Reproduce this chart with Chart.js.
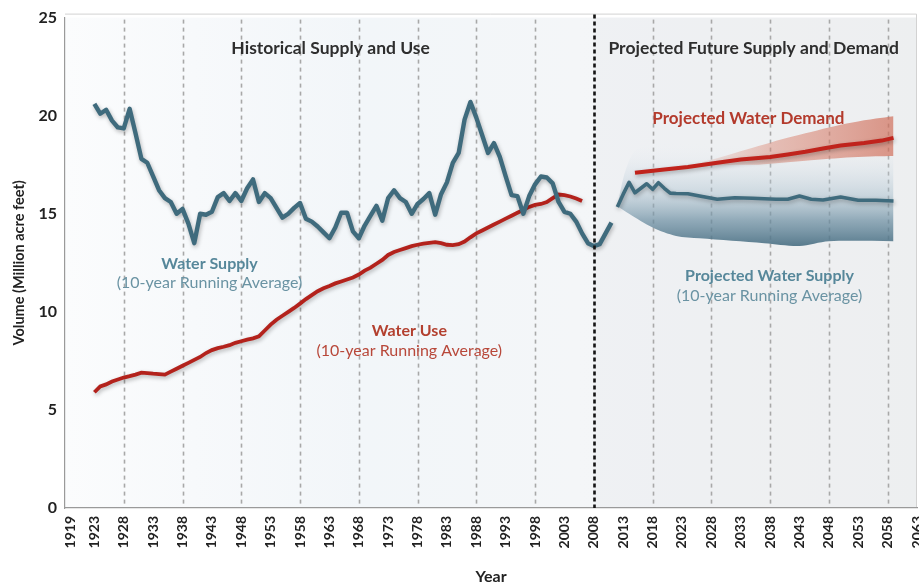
<!DOCTYPE html>
<html><head><meta charset="utf-8">
<script src="https://cdn.jsdelivr.net/npm/chart.js@4.4.0/dist/chart.umd.min.js"></script>
<style>html,body{margin:0;padding:0;background:#fff;}#wrap{width:919px;height:586px;}</style>
</head><body><div id="wrap"><canvas id="c" width="919" height="586"></canvas></div>
<script>
// ---- tick labels / grid ----
const tickYears = [1919,1923,1928,1933,1938,1943,1948,1953,1958,1963,1968,1973,1978,1983,1988,1993,1998,2003,2008,2013,2018,2023,2028,2033,2038,2043,2048,2053,2058,2063];
const tickLabels = ['1919','1923','1928','1933','1938','1943','1948','1953','1958','1963','1968','1973','1978','1983','1988','1993','1998','2003','2008','2013','2018','2023','2028','2033','2038','2043','2048','2053','2058','2063'];
const gridYears = [1928,1938,1948,1958,1968,1978,1988,1998,2018,2028,2038,2048,2058];
const dividerYear = 2008;
const yTicks = [0,5,10,15,20,25];

// ---- historical water supply (10-yr running average) ----
const supplyYears = [1923,1924,1925,1926,1927,1928,1929,1930,1931,1932,1933,1934,1935,1936,1937,1938,1939,1940,1941,1942,1943,1944,1945,1946,1947,1948,1949,1950,1951,1952,1953,1954,1955,1956,1957,1958,1959,1960,1961,1962,1963,1964,1965,1966,1967,1968,1969,1970,1971,1972,1973,1974,1975,1976,1977,1978,1979,1980,1981,1982,1983,1984,1985,1986,1987,1988,1989,1990,1991,1992,1993,1994,1995,1996,1997,1998,1999,2000,2001,2002,2003,2004,2005,2006,2007,2008,2009,2010,2011];
const supplyValues = [20.6,20.1,20.3,19.75,19.4,19.35,20.35,19.1,17.8,17.6,16.9,16.2,15.8,15.6,15.0,15.25,14.5,13.5,15.0,14.95,15.1,15.85,16.05,15.65,16.05,15.65,16.3,16.75,15.6,16.05,15.8,15.3,14.8,15.0,15.3,15.55,14.75,14.6,14.35,14.05,13.75,14.3,15.05,15.05,14.1,13.75,14.4,14.9,15.4,14.65,15.8,16.2,15.8,15.6,15.0,15.5,15.75,16.05,14.95,16.0,16.6,17.6,18.1,19.8,20.7,19.9,19.0,18.1,18.6,17.9,16.9,15.95,15.9,15.0,15.9,16.5,16.9,16.85,16.55,15.6,15.1,15.0,14.6,14.0,13.5,13.35,13.45,14.0,14.55];

// ---- historical water use (10-yr running average) ----
const useYears = [1923,1924,1925,1926,1927,1928,1929,1930,1931,1932,1933,1934,1935,1936,1937,1938,1939,1940,1941,1942,1943,1944,1945,1946,1947,1948,1949,1950,1951,1952,1953,1954,1955,1956,1957,1958,1959,1960,1961,1962,1963,1964,1965,1966,1967,1968,1969,1970,1971,1972,1973,1974,1975,1976,1977,1978,1979,1980,1981,1982,1983,1984,1985,1986,1987,1988,1989,1990,1991,1992,1993,1994,1995,1996,1997,1998,1999,2000,2001,2002,2003,2004,2005,2006];
const useValues = [5.9,6.2,6.3,6.45,6.55,6.65,6.72,6.8,6.9,6.88,6.85,6.83,6.8,6.95,7.1,7.25,7.4,7.55,7.7,7.9,8.05,8.15,8.22,8.3,8.42,8.5,8.58,8.65,8.75,9.05,9.35,9.6,9.8,10.0,10.2,10.42,10.65,10.85,11.05,11.2,11.32,11.45,11.55,11.65,11.75,11.9,12.1,12.25,12.45,12.65,12.9,13.05,13.15,13.25,13.35,13.42,13.48,13.52,13.55,13.5,13.42,13.4,13.45,13.58,13.8,14.0,14.15,14.3,14.45,14.6,14.75,14.9,15.05,15.2,15.35,15.45,15.5,15.6,15.8,15.98,15.95,15.88,15.78,15.65];

// ---- projected water supply ----
const projSupplyYears = [2012,2013,2014,2015,2016,2017,2018,2019,2020,2021,2022,2024,2026,2029,2032,2035,2039,2041,2043,2045,2047,2050,2053,2056,2059];
const projSupplyValues = [15.35,16.0,16.6,16.07,16.3,16.53,16.25,16.58,16.3,16.05,16.03,16.02,15.9,15.74,15.82,15.79,15.74,15.74,15.9,15.74,15.7,15.85,15.69,15.69,15.65];
const supplyBandLowYears = [2012,2014,2018,2022,2026,2037,2043,2048,2059];
const supplyBandLow = [15.4,15.0,14.3,13.87,13.75,13.5,13.36,13.6,13.6];
const supplyBandHighYears = [2012,2013,2014,2015,2017,2020,2025,2030,2035,2040,2045,2050,2055,2059];
const supplyBandHigh = [15.4,16.8,17.7,18.2,18.5,18.6,18.6,18.5,18.4,18.3,18.2,18.1,18.0,17.9];

// ---- projected water demand ----
const demandYears = [2015,2020,2024,2029,2033,2038,2041,2044,2047,2050,2054,2057,2059];
const demandValues = [17.09,17.26,17.38,17.6,17.77,17.89,18.02,18.16,18.33,18.48,18.61,18.73,18.87];
const demandBandYears = [2024,2028,2032,2036,2040,2044,2048,2052,2056,2059];
const demandBandHigh = [17.42,17.75,18.1,18.45,18.8,19.1,19.4,19.65,19.85,19.97];
const demandBandLow = [17.35,17.45,17.5,17.5,17.6,17.7,17.8,17.88,17.93,17.95];

const pts = (xs, ys) => xs.map((x, i) => ({x, y: ys[i]}));

const TEAL = '#3f6b7d';
const RED = '#b3221c';
const FONT = 'Lato, "DejaVu Sans", sans-serif';

const bgPlugin = {
  id: 'bg',
  beforeDraw(chart) {
    const {ctx, chartArea: a, scales: {x}} = chart;
    ctx.save();
    const g = ctx.createLinearGradient(a.left, 0, a.right, 0);
    g.addColorStop(0, '#fbfcfd');
    g.addColorStop(0.15, '#f7f9fb');
    g.addColorStop(0.35, '#f2f6f9');
    g.addColorStop(0.6, '#f4f6f8');
    g.addColorStop(1, '#f1f2f3');
    ctx.fillStyle = g;
    ctx.fillRect(a.left, a.top, a.right - a.left, a.bottom - a.top);
    const xd = x.getPixelForValue(dividerYear);
    ctx.fillStyle = 'rgba(232,234,237,0.45)';
    ctx.fillRect(xd, a.top, a.right - xd, a.bottom - a.top);
    ctx.setLineDash([4, 4]);
    ctx.strokeStyle = '#a8a8a8';
    ctx.lineWidth = 1.6;
    gridYears.forEach(yr => {
      const px = Math.round(x.getPixelForValue(yr)) + 0.5;
      ctx.beginPath(); ctx.moveTo(px, a.top + 2); ctx.lineTo(px, a.bottom); ctx.stroke();
    });
    ctx.setLineDash([]);
    ctx.strokeStyle = '#d2d2d2';
    ctx.lineWidth = 1;
    ctx.beginPath();
    ctx.moveTo(a.left, a.top - 3.5); ctx.lineTo(a.right - 0.5, a.top - 3.5); ctx.lineTo(a.right - 0.5, a.bottom);
    ctx.stroke();
    ctx.restore();
  },
  beforeDatasetDraw(chart, args) {
    const ds = chart.data.datasets[args.index];
    if (ds.shadow) {
      const ctx = chart.ctx;
      ctx.save();
      ctx.shadowColor = 'rgba(0,0,0,0.28)';
      ctx.shadowBlur = 4;
      ctx.shadowOffsetX = 1;
      ctx.shadowOffsetY = 2;
    }
  },
  afterDatasetDraw(chart, args) {
    const ds = chart.data.datasets[args.index];
    if (ds.shadow) chart.ctx.restore();
  },
  afterDatasetsDraw(chart) {
    const {ctx, chartArea: a, scales: {x, y}} = chart;
    ctx.save();
    const xd = Math.round(x.getPixelForValue(dividerYear)) + 0.5;
    ctx.setLineDash([4, 3]);
    ctx.strokeStyle = '#151515';
    ctx.lineWidth = 2.6;
    ctx.beginPath(); ctx.moveTo(xd, a.top - 3); ctx.lineTo(xd, a.bottom); ctx.stroke();
    ctx.setLineDash([]);
    ctx.textAlign = 'center';
    ctx.textBaseline = 'middle';
    const txt = (s, yr, v, color, font) => {
      ctx.fillStyle = color; ctx.font = font;
      ctx.fillText(s, x.getPixelForValue(yr), y.getPixelForValue(v));
    };
    const hdr = 'bold 17.5px ' + FONT;
    txt('Historical Supply and Use', 1963.2, 23.42, '#2e2e2e', hdr);
    txt('Projected Future Supply and Demand', 2035.2, 23.42, '#2e2e2e', hdr);
    txt('Projected Water Demand', 2034.3, 19.87, '#b33a2c', 'bold 17px ' + FONT);
    const lab = '16px ' + FONT;
    txt('Water Supply', 1942.6, 12.45, '#56879a', 'bold ' + lab);
    txt('(10-year Running Average)', 1942.6, 11.48, '#6a93a3', lab);
    txt('Water Use', 1976.6, 9.04, '#b3402f', 'bold ' + lab);
    txt('(10-year Running Average)', 1976.6, 8.03, '#b8483a', lab);
    txt('Projected Water Supply', 2037.9, 11.84, '#56879a', 'bold ' + lab);
    txt('(10-year Running Average)', 2037.9, 10.82, '#6a93a3', lab);
    ctx.restore();
  }
};

const supplyBandFill = (c) => {
  const chart = c.chart;
  const {ctx, chartArea} = chart;
  if (!chartArea) return 'rgba(90,125,145,0.5)';
  const y = chart.scales.y;
  const lo = Math.min(...supplyBandLow), hi = Math.max(...supplyBandHigh);
  const g = ctx.createLinearGradient(0, y.getPixelForValue(lo), 0, y.getPixelForValue(hi));
  g.addColorStop(0, 'rgba(72,110,130,0.9)');
  g.addColorStop(0.25, 'rgba(105,140,160,0.7)');
  g.addColorStop(0.5, 'rgba(160,185,200,0.45)');
  g.addColorStop(0.75, 'rgba(200,215,226,0.25)');
  g.addColorStop(1, 'rgba(235,240,244,0)');
  return g;
};
const demandBandFill = (c) => {
  const chart = c.chart;
  const {ctx, chartArea} = chart;
  if (!chartArea) return 'rgba(210,120,100,0.5)';
  const x = chart.scales.x;
  const g = ctx.createLinearGradient(x.getPixelForValue(demandBandYears[0]), 0, x.getPixelForValue(demandBandYears[demandBandYears.length - 1]), 0);
  g.addColorStop(0, 'rgba(225,150,130,0.1)');
  g.addColorStop(0.4, 'rgba(218,130,110,0.45)');
  g.addColorStop(1, 'rgba(208,110,90,0.7)');
  return g;
};

new Chart(document.getElementById('c'), {
  type: 'line',
  data: {
    datasets: [
      {data: pts(supplyBandHighYears, supplyBandHigh), fill: '+1', backgroundColor: supplyBandFill, borderWidth: 0, pointRadius: 0, tension: 0.3, order: 10},
      {data: pts(supplyBandLowYears, supplyBandLow), fill: false, borderWidth: 0, pointRadius: 0, tension: 0.3, order: 10},
      {data: pts(demandBandYears, demandBandHigh), fill: '+1', backgroundColor: demandBandFill, borderWidth: 0, pointRadius: 0, tension: 0.3, order: 9},
      {data: pts(demandBandYears, demandBandLow), fill: false, borderWidth: 0, pointRadius: 0, tension: 0.3, order: 9},
      {label: 'Water Use', data: pts(useYears, useValues), borderColor: RED, borderWidth: 3.8, pointRadius: 0, fill: false, shadow: true, order: 2},
      {label: 'Water Supply', data: pts(supplyYears, supplyValues), borderColor: TEAL, borderWidth: 4.4, pointRadius: 0, fill: false, shadow: true, order: 1, borderJoinStyle: 'round'},
      {label: 'Projected Water Supply', data: pts(projSupplyYears, projSupplyValues), borderColor: TEAL, borderWidth: 3.6, pointRadius: 0, fill: false, shadow: true, order: 3, borderJoinStyle: 'round'},
      {label: 'Projected Water Demand', data: pts(demandYears, demandValues), borderColor: '#c0231c', borderWidth: 4, pointRadius: 0, fill: false, shadow: true, order: 2}
    ]
  },
  options: {
    responsive: false,
    animation: false,
    layout: {padding: {top: 16, right: 2, left: 0, bottom: 0}},
    plugins: {legend: {display: false}, tooltip: {enabled: false}},
    scales: {
      x: {
        type: 'linear', min: 1918, max: 2063,
        afterBuildTicks: (s) => { s.ticks = tickYears.map(v => ({value: v})); },
        afterFit: (s) => { s.height = 78; s.paddingLeft = 0; s.paddingRight = 0; },
        ticks: {
          autoSkip: false, minRotation: 90, maxRotation: 90, padding: 8,
          color: '#222', font: {family: FONT, size: 14, weight: 'bold'},
          callback: (v) => tickLabels[tickYears.indexOf(v)]
        },
        grid: {display: false, drawTicks: false},
        border: {color: '#9a9a9a', width: 1.2},
        title: {display: true, text: 'Year', color: '#222', font: {family: FONT, size: 16, weight: 'bold'}, padding: {top: 2, bottom: 0}}
      },
      y: {
        min: 0, max: 25,
        afterBuildTicks: (s) => { s.ticks = yTicks.map(v => ({value: v})); },
        afterFit: (s) => { s.width = 65; },
        ticks: {padding: 8, color: '#222', font: {family: FONT, size: 16, weight: 'bold'}},
        grid: {display: false, drawTicks: false},
        border: {color: '#9a9a9a', width: 1.2},
        title: {display: true, text: 'Volume (Million acre feet)', color: '#222', font: {family: FONT, size: 14.5, weight: 'bold'}, padding: {top: 11, bottom: 0}}
      }
    }
  },
  plugins: [bgPlugin]
});
</script>
</body></html>
